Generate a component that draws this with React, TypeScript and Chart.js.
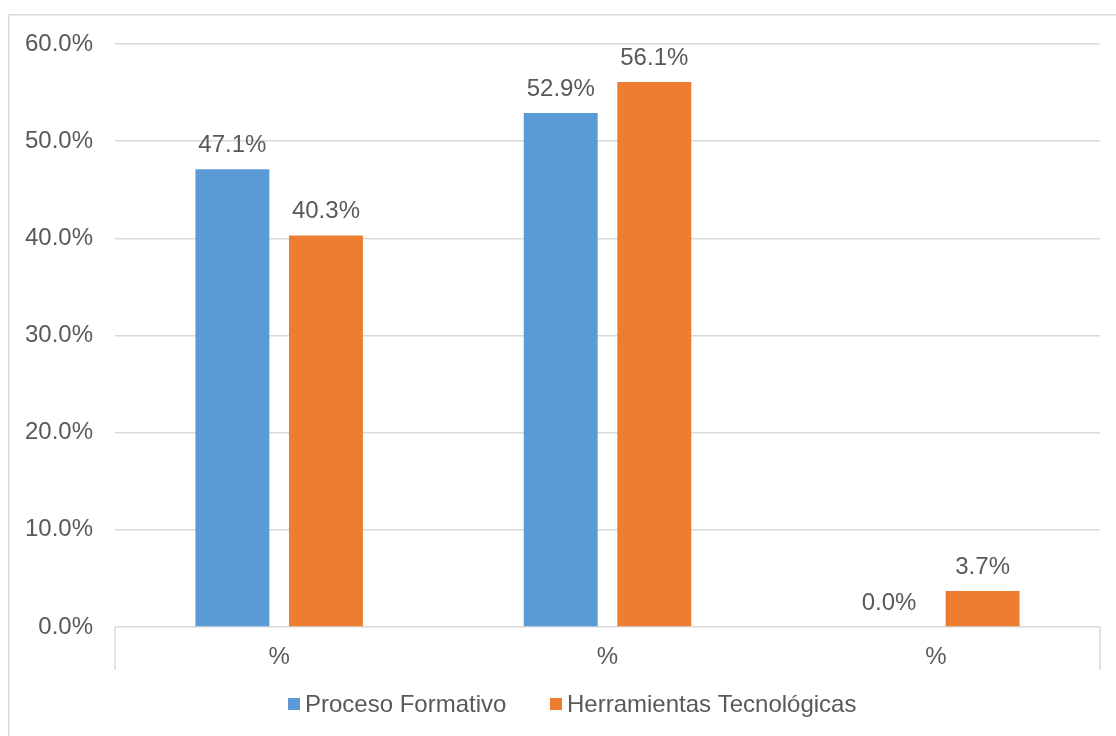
import React, { useEffect, useRef } from "react";
import { Chart, registerables } from "chart.js";

Chart.register(...registerables);

const categories = ["%", "%", "%"];
const seriesNames = ["Proceso Formativo", "Herramientas Tecnológicas"];
const procesoFormativo = [47.1, 52.9, 0.0];
const herramientasTecnologicas = [40.3, 56.1, 3.7];
const seriesColors = ["#5B9BD5", "#ED7D31"];
const yTicks = [0, 10, 20, 30, 40, 50, 60];

const FONT = "'Liberation Sans', Arial, sans-serif";
const FONT_SIZE = 24;
const TEXT = "#595959";
const LINE = "#d9d9d9";

// Outer frame, category boundary ticks, value labels and legend
const decorations = {
  id: "decorations",
  beforeDraw(chart: any) {
    const ctx = chart.ctx;
    ctx.save();
    ctx.strokeStyle = LINE;
    ctx.lineWidth = 1.5;
    ctx.beginPath();
    ctx.moveTo(8.75, 800);
    ctx.lineTo(8.75, 14.75);
    ctx.lineTo(1200, 14.75);
    ctx.stroke();
    ctx.restore();
  },
  afterDatasetsDraw(chart: any) {
    const ctx = chart.ctx;
    const area = chart.chartArea;
    ctx.save();
    // boundary ticks below the category axis
    ctx.strokeStyle = LINE;
    ctx.lineWidth = 1.5;
    ctx.beginPath();
    [area.left, area.right].forEach((x: number) => {
      ctx.moveTo(x, area.bottom);
      ctx.lineTo(x, area.bottom + 43);
    });
    ctx.stroke();

    // value labels above bars
    ctx.fillStyle = TEXT;
    ctx.font = `${FONT_SIZE}px ${FONT}`;
    ctx.textAlign = "center";
    ctx.textBaseline = "alphabetic";
    chart.data.datasets.forEach((ds: any, i: number) => {
      const meta = chart.getDatasetMeta(i);
      meta.data.forEach((bar: any, j: number) => {
        ctx.fillText(ds.data[j].toFixed(1) + "%", bar.x, bar.y - 17);
      });
    });

    // legend
    const legendY = 704;
    const items = [
      { x: 288, label: seriesNames[0], color: seriesColors[0] },
      { x: 550, label: seriesNames[1], color: seriesColors[1] },
    ];
    ctx.textAlign = "left";
    ctx.textBaseline = "middle";
    items.forEach((it) => {
      ctx.fillStyle = it.color;
      ctx.fillRect(it.x, legendY - 6, 12, 12);
      ctx.fillStyle = TEXT;
      ctx.fillText(it.label, it.x + 17, legendY + 1);
    });
    ctx.restore();
  },
};

export default function App() {
  const canvasRef = useRef<HTMLCanvasElement | null>(null);

  useEffect(() => {
    document.body.style.margin = "0";
    const canvas = canvasRef.current;
    if (!canvas) return;
    const chart = new Chart(canvas, {
      type: "bar",
      data: {
        labels: categories,
        datasets: [
          {
            label: seriesNames[0],
            data: procesoFormativo,
            backgroundColor: seriesColors[0],
            categoryPercentage: 0.57,
            barPercentage: 0.79,
          },
          {
            label: seriesNames[1],
            data: herramientasTecnologicas,
            backgroundColor: seriesColors[1],
            categoryPercentage: 0.57,
            barPercentage: 0.79,
          },
        ],
      },
      options: {
        responsive: false,
        animation: false,
        devicePixelRatio: 1,
        layout: { padding: { left: 0, top: 44, right: 16, bottom: 0 } },
        plugins: {
          legend: { display: false },
          tooltip: { enabled: false },
        },
        scales: {
          x: {
            grid: { display: false, drawTicks: false },
            border: { display: false },
            ticks: {
              color: TEXT,
              font: { family: FONT, size: FONT_SIZE },
              padding: 16,
              maxRotation: 0,
            },
            afterFit(scale: any) {
              scale.height = 109;
            },
          },
          y: {
            min: 0,
            max: 60,
            afterBuildTicks(scale: any) {
              scale.ticks = yTicks.map((v) => ({ value: v }));
            },
            grid: { color: LINE, lineWidth: 1.5, drawTicks: false },
            border: { display: false },
            ticks: {
              color: TEXT,
              font: { family: FONT, size: FONT_SIZE },
              padding: 22,
              callback: (v: any) => Number(v).toFixed(1) + "%",
            },
            afterFit(scale: any) {
              scale.width = 115;
            },
          },
        },
      },
      plugins: [decorations],
    });
    return () => chart.destroy();
  }, []);

  return (
    <div style={{ position: "absolute", left: 0, top: 0, width: 1116, height: 736, background: "#fff" }}>
      <canvas ref={canvasRef} width={1116} height={736} style={{ display: "block" }} />
    </div>
  );
}
